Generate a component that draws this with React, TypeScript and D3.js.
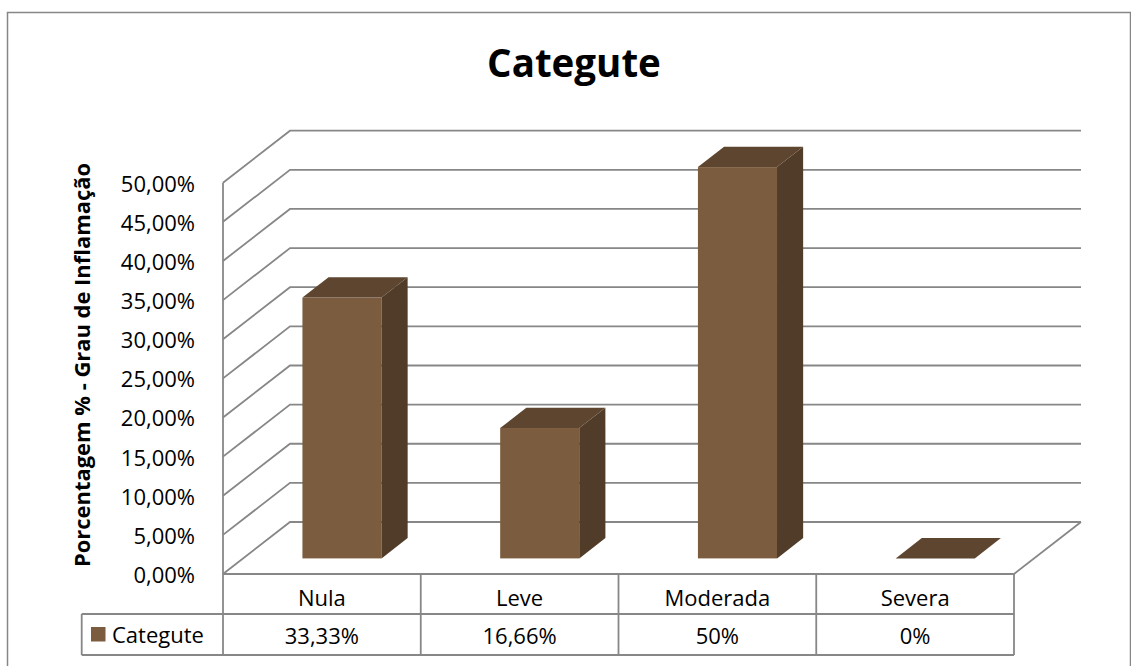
import * as d3 from "d3";

const categories = ["Nula", "Leve", "Moderada", "Severa"];
const values = [0.3333, 0.1666, 0.5, 0];
const valueLabels = ["33,33%", "16,66%", "50%", "0%"];
const yTicks = [0, 0.05, 0.1, 0.15, 0.2, 0.25, 0.3, 0.35, 0.4, 0.45, 0.5];
const seriesName = "Categute";

const width = 1131, height = 666;
const grid = "#878787";
const front = "#7c5c3e", topC = "#5e4530", side = "#503c29";
const font = "'Open Sans', 'Noto Sans', sans-serif";

// oblique depth of the 3d box
const depth = { dx: 67, dy: -52 };
const barDepth = [0.3, 0.69];

export default function App() {
  const x = d3.scaleBand<string>()
    .domain(categories)
    .range([223, 1014])
    .paddingInner(0.6)
    .paddingOuter(0.3);
  const y = d3.scaleLinear().domain([0, 0.5]).range([574, 182.7]);
  const fmt = (v: number) => d3.format(".2f")(v * 100).replace(".", ",") + "%";

  const x0 = 223, x1 = 1014;
  const step = x.step();
  const rowTop = 574, rowMid = 614, rowBot = 655;

  const bars = categories.map((c, i) => {
    const v = values[i];
    const fx = x(c)! + depth.dx * barDepth[0];
    const fy = y(0) + depth.dy * barDepth[0];
    const w = x.bandwidth();
    const h = y(0) - y(v);
    const ddx = depth.dx * (barDepth[1] - barDepth[0]);
    const ddy = depth.dy * (barDepth[1] - barDepth[0]);
    const top = fy - h;
    const topPath = d3.path();
    topPath.moveTo(fx, top);
    topPath.lineTo(fx + ddx, top + ddy);
    topPath.lineTo(fx + w + ddx, top + ddy);
    topPath.lineTo(fx + w, top);
    topPath.closePath();
    const sidePath = d3.path();
    sidePath.moveTo(fx + w, top);
    sidePath.lineTo(fx + w + ddx, top + ddy);
    sidePath.lineTo(fx + w + ddx, fy + ddy);
    sidePath.lineTo(fx + w, fy);
    sidePath.closePath();
    return (
      <g key={c}>
        {h > 0 && <rect x={fx} y={top} width={w} height={h} fill={front} />}
        {h > 0 && <path d={sidePath.toString()} fill={side} />}
        <path d={topPath.toString()} fill={topC} />
      </g>
    );
  });

  return (
    <svg width={width} height={height} style={{ position: "absolute", left: 0, top: 0, background: "#fff" }}>
      <rect x={7.5} y={12.5} width={1123} height={700} fill="none" stroke={grid} strokeWidth={1.5} />
      <text x={574} y={77} textAnchor="middle" fontFamily={font} fontWeight="bold" fontSize={38.5}>
        Categute
      </text>

      {/* walls */}
      <g stroke={grid} strokeWidth={1.8} fill="none">
        {yTicks.map(t => (
          <polyline key={t}
            points={`${x0},${y(t)} ${x0 + depth.dx},${y(t) + depth.dy} ${x1 + depth.dx},${y(t) + depth.dy}`} />
        ))}
        <line x1={x0} y1={y(0.5)} x2={x0} y2={rowBot} />
        <line x1={x0} y1={rowTop} x2={x1} y2={rowTop} />
        <line x1={x1} y1={rowTop} x2={x1 + depth.dx} y2={rowTop + depth.dy} />
      </g>

      {bars}

      {/* y axis */}
      <g fontFamily={font} fontSize={22} fill="#000">
        {yTicks.map(t => (
          <text key={t} x={195} y={y(t)} textAnchor="end" dominantBaseline="central">{fmt(t)}</text>
        ))}
      </g>
      <text transform={`translate(90,${(163 + 567) / 2}) rotate(-90)`} textAnchor="middle"
        fontFamily={font} fontWeight="bold" fontSize={21} textLength={404} lengthAdjust="spacingAndGlyphs">
        Porcentagem % - Grau de Inflamação
      </text>

      {/* data table */}
      <g stroke={grid} strokeWidth={1.8} fill="none">
        <line x1={81.7} y1={rowMid} x2={x1} y2={rowMid} />
        <line x1={81.7} y1={rowBot} x2={x1} y2={rowBot} />
        <line x1={81.7} y1={rowMid} x2={81.7} y2={rowBot} />
        {categories.map((c, i) => {
          const cx = x0 + step * (i + 1);
          return <line key={c} x1={cx} y1={rowTop} x2={cx} y2={rowBot} />;
        })}
      </g>
      <g fontFamily={font} fontSize={22} textAnchor="middle" fill="#000">
        {categories.map((c, i) => {
          const cx = x(c)! + x.bandwidth() / 2;
          return (
            <g key={c}>
              <text x={cx} y={606}>{c}</text>
              <text x={cx} y={644}>{valueLabels[i]}</text>
            </g>
          );
        })}
      </g>
      <rect x={91} y={627} width={14.5} height={14.5} fill={front} />
      <text x={112} y={643} fontFamily={font} fontSize={22}>{seriesName}</text>
    </svg>
  );
}
